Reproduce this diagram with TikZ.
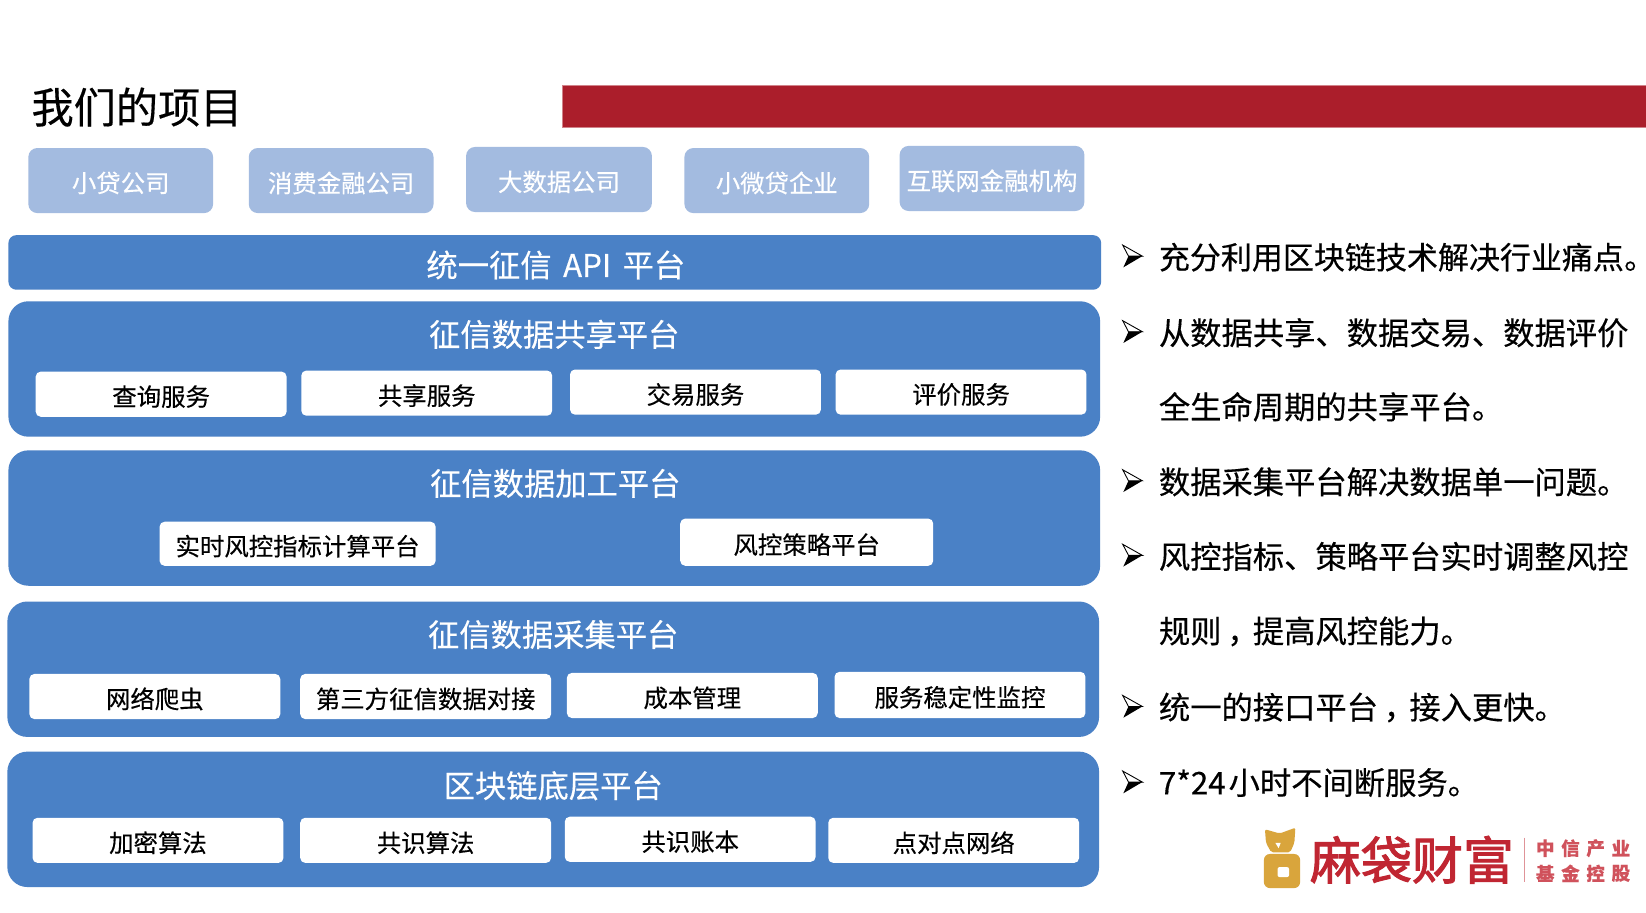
\documentclass[tikz,border=0pt]{standalone}
\usepackage{fontspec}
\setmainfont{Noto Sans CJK SC}[RawFeature={embolden=0.35}]
\newfontfamily\logofont{Noto Sans CJK SC}[RawFeature={embolden=2}]
\definecolor{barred}{HTML}{AB1E2B}
\definecolor{midblue}{HTML}{4A81C6}
\definecolor{lightblue}{HTML}{A3BBE0}
\definecolor{logored}{HTML}{C02632}
\definecolor{logosubred}{HTML}{D0525C}
\definecolor{logogold}{HTML}{D9A53C}
\newcommand{\fsz}[1]{\fontsize{#1}{#1}\selectfont}
\newcommand{\boxn}[7][]{%
  \node[#1,minimum width={1.0497*(#4-#2)},minimum height={1.0497*(#5-#3)}] (#6) at ({(#2+#4)/2},{(#3+#5)/2}) {\raisebox{-2.4pt}[\height][\depth]{#7}};}
\newcommand{\ccomma}{\makebox[1em][c]{\addfontfeature{RawFeature=+palt}，}}
\newcommand{\cstop}{{\addfontfeature{RawFeature=+palt}。}}
\newcommand{\mk}[2]{%
  \draw[black,line width=.9pt,line join=miter,fill=white] (1069.5,#2-10.5) -- (1088.2,#2) -- (1075,#2) -- cycle;
  \fill[black] (1075,#2) -- (1088.2,#2) -- (1070.1,#2+10.7) -- cycle;
  \coordinate (#1) at (1078,#2);}
\tikzset{
  x=1.0497pt,y=-1.0497pt,
  base/.style={inner sep=0pt,outer sep=0pt},
  client/.style={base,fill=lightblue,rounded corners=9pt,text=white,font=\fsz{24.4}},
  band/.style={base,fill=midblue,rounded corners=8pt},
  layer/.style={base,fill=midblue,rounded corners=20pt},
  service/.style={base,fill=white,rounded corners=5pt,text=black,font=\fsz{24.4}},
  headtext/.style={base,text=white,font=\fsz{31.3}},
  bullettext/.style={base,anchor=west,font=\fsz{31.3}},
  logomain/.style={base,text=logored,font=\logofont\fsz{51}},
  logosub/.style={base,text=logosubred,anchor=center,font=\bfseries\fsz{18.5}},
}
\begin{document}
\begin{tikzpicture}
\useasboundingbox (0,0) rectangle (1568,869);
\fill[white] (0,0) rectangle (1568,869);
% title and bar
\node[base,anchor=west,font=\fsz{42.2}] (title) at (30,102) {我们的项目};
\node[base,fill=barred,draw=barred!55!white,line width=.6pt,minimum width={1.0497*1032},minimum height={1.0497*40}] (bar) at (1052,101) {};
% clients
\boxn[client]{27}{141}{203}{203}{c1}{小贷公司}
\boxn[client]{237}{141}{413}{203}{c2}{消费金融公司}
\boxn[client]{444}{140}{621}{202}{c3}{大数据公司}
\boxn[client]{652}{141}{828}{203}{c4}{小微贷企业}
\boxn[client]{857}{139}{1033}{201}{c5}{互联网金融机构}
% layers
\node[band,minimum width={1.0497*1041},minimum height={1.0497*52}] (api) at (528.5,250) {};
\node[headtext] (apit) at (529.5,252.5) {统一征信\hspace{4.5pt} API \hspace{4.5pt}平台};
\node[layer,minimum width={1.0497*1040},minimum height={1.0497*129}] (share) at (528,351.5) {};
\node[headtext] (sharet) at (528,318.5) {征信数据共享平台};
\boxn[service]{34}{354}{273}{397}{s1}{查询服务}
\boxn[service]{287}{353}{526}{396}{s2}{共享服务}
\boxn[service]{543}{352}{782}{395}{s3}{交易服务}
\boxn[service]{796}{352}{1035}{395}{s4}{评价服务}
\node[layer,minimum width={1.0497*1040},minimum height={1.0497*129}] (proc) at (528,493.5) {};
\node[headtext] (proct) at (529,460.5) {征信数据加工平台};
\boxn[service]{152}{497}{415}{539}{p1}{实时风控指标计算平台}
\boxn[service]{648}{494}{889}{539}{p2}{风控策略平台}
\node[layer,minimum width={1.0497*1040},minimum height={1.0497*129}] (coll) at (527,637.5) {};
\node[headtext] (collt) at (527,604.5) {征信数据采集平台};
\boxn[service]{28}{642}{267}{685}{k1}{网络爬虫}
\boxn[service]{286}{642}{525}{685}{k2}{第三方征信数据对接}
\boxn[service]{540}{641}{779}{684}{k3}{成本管理}
\boxn[service]{795}{640}{1034}{684}{k4}{服务稳定性监控}
\node[layer,minimum width={1.0497*1040},minimum height={1.0497*129}] (chain) at (527,780.5) {};
\node[headtext] (chaint) at (527,748.5) {区块链底层平台};
\boxn[service]{31}{779}{270}{822}{b1}{加密算法}
\boxn[service]{286}{779}{525}{822}{b2}{共识算法}
\boxn[service]{538}{778}{777}{821}{b3}{共识账本}
\boxn[service]{789}{779}{1028}{822}{b4}{点对点网络}
% bullets
\mk{m1}{244}
\node[bullettext,font=\fsz{31}] (t1) at (1104,245) {充分利用区块链技术解决行业痛点\cstop};
\mk{m2}{316}
\node[bullettext] (t2) at (1104,317) {从数据共享、数据交易、数据评价};
\node[bullettext] (t2b) at (1104,387.5) {全生命周期的共享平台。};
\mk{m3}{458}
\node[bullettext] (t3) at (1104,459) {数据采集平台解决数据单一问题。};
\mk{m4}{529}
\node[bullettext] (t4) at (1104,530) {风控指标、策略平台实时调整风控};
\node[bullettext] (t4b) at (1104,601.5) {规则\ccomma 提高风控能力。};
\mk{m5}{673}
\node[bullettext] (t5) at (1104,674) {统一的接口平台\ccomma 接入更快。};
\mk{m6}{745}
\node[bullettext] (t6) at (1104,745.5) {7*24\hspace{3pt}小时不间断服务。};
% logo
\fill[logogold,rounded corners=2pt] (1205,790) -- (1219,794) -- (1234,788.5) -- (1233,803) -- (1229,812) -- (1211,812) -- (1206,803) -- cycle;
\fill[white] (1215,803) -- (1220,803) -- (1218,808) -- cycle;
\fill[logogold,rounded corners=6pt] (1204,813.5) rectangle (1238.5,846);
\fill[white,rounded corners=2pt] (1217,826) rectangle (1228,835.5);
\node[logomain,anchor=center] (logo) at (1345,819) {麻袋财富};
\draw[logored!50!white,line width=.9pt] (1452,798) -- (1452,840);
\node[logosub] (l1a) at (1472,808) {中};
\node[logosub] (l1b) at (1496,808) {信};
\node[logosub] (l1c) at (1520,808) {产};
\node[logosub] (l1d) at (1544,808) {业};
\node[logosub] (l2a) at (1472,832) {基};
\node[logosub] (l2b) at (1496,832) {金};
\node[logosub] (l2c) at (1520,832) {控};
\node[logosub] (l2d) at (1544,832) {股};
\end{tikzpicture}
\end{document}
